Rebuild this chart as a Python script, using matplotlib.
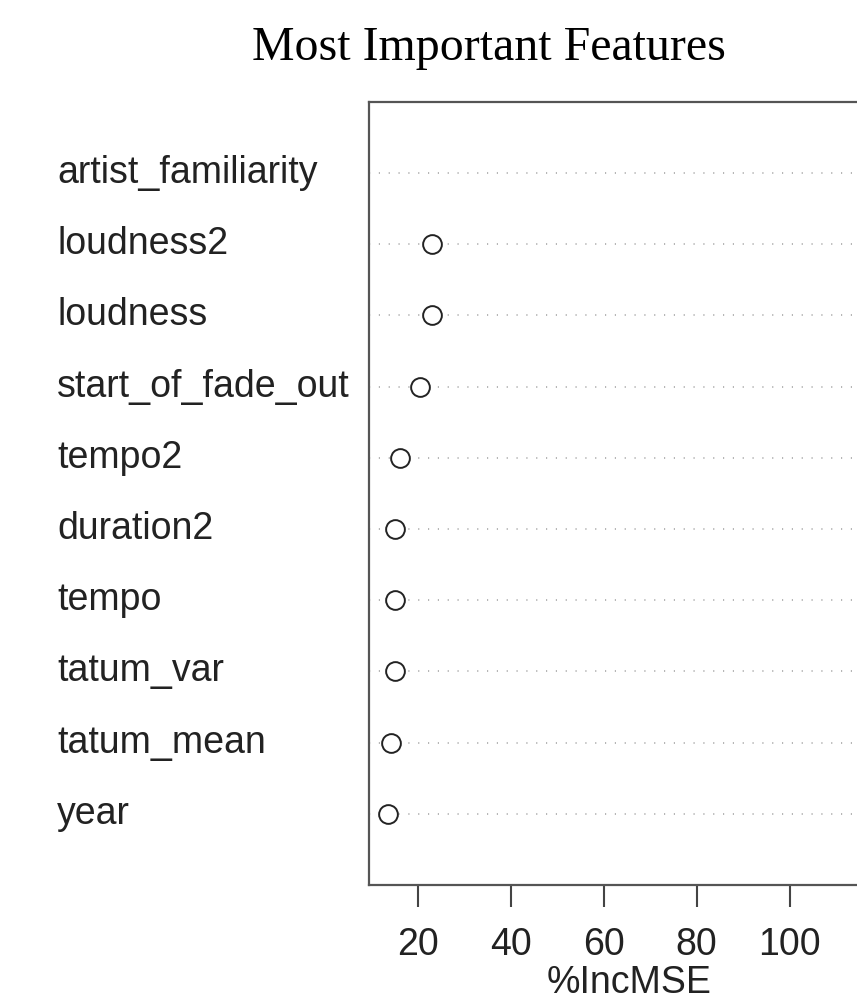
import numpy as np
import matplotlib
matplotlib.use("Agg")
import matplotlib.pyplot as plt
import matplotlib.transforms as mtransforms

# variable importance (%IncMSE), top of the list first
features = ["artist_familiarity", "loudness2", "loudness", "start_of_fade_out",
            "tempo2", "duration2", "tempo", "tatum_var", "tatum_mean", "year"]
inc_mse = [117.2, 23.2, 23.1, 20.5, 16.2, 15.2, 15.1, 15.05, 14.2, 13.7]
xticks = [20, 40, 60, 80, 100]

W, H = 857, 1008
fig = plt.figure(figsize=(W / 100, H / 100), dpi=100)

# plot box runs past the right edge of the figure
left, right, top, bottom = 369, 889, 101.7, 885
ax = fig.add_axes([left / W, 1 - bottom / H, (right - left) / W, (bottom - top) / H])

n = len(features)
ypos = np.arange(n, 0, -1)

# R-style dotchart range: data range padded 4% on each side
lo, hi = min(inc_mse), max(inc_mse)
pad = 0.04 * (hi - lo)
ax.set_xlim(lo - pad, hi + pad)
ax.set_ylim(0, n + 1)

for y in ypos:
    ax.axhline(y, color="#a8a8a8", lw=1.2, dashes=(0.7, 5.2), zorder=1)

ax.scatter(inc_mse, ypos, s=13.5 ** 2, facecolors="white", edgecolors="#222222",
           linewidths=1.4, zorder=3, clip_on=False)

for side in ["left", "right", "top", "bottom"]:
    ax.spines[side].set_color("#555555")
    ax.spines[side].set_linewidth(1.6)

ax.set_yticks([])
ax.set_xticks(xticks)
ax.set_xticklabels([str(t) for t in xticks], fontfamily="Liberation Sans",
                   fontsize=27, color="#222222")
ax.tick_params(axis="x", direction="out", length=16, width=1.5, color="#444444", pad=14)

ax.set_xlabel("%IncMSE", fontfamily="Liberation Sans", fontsize=27,
              color="#222222", labelpad=2)

# row labels, left aligned in the margin
trans = mtransforms.blended_transform_factory(fig.transFigure, ax.transData)
for name, y in zip(features, ypos):
    fig.text(57 / W, y, name, transform=trans, ha="left", va="center",
             fontfamily="Liberation Sans", fontsize=27, color="#222222")

fig.text(489 / W, 1 - 60 / H, "Most Important Features", ha="center", va="baseline",
         fontfamily="Liberation Serif", fontsize=34.5, color="black")

fig.savefig("out.png", dpi=100)
